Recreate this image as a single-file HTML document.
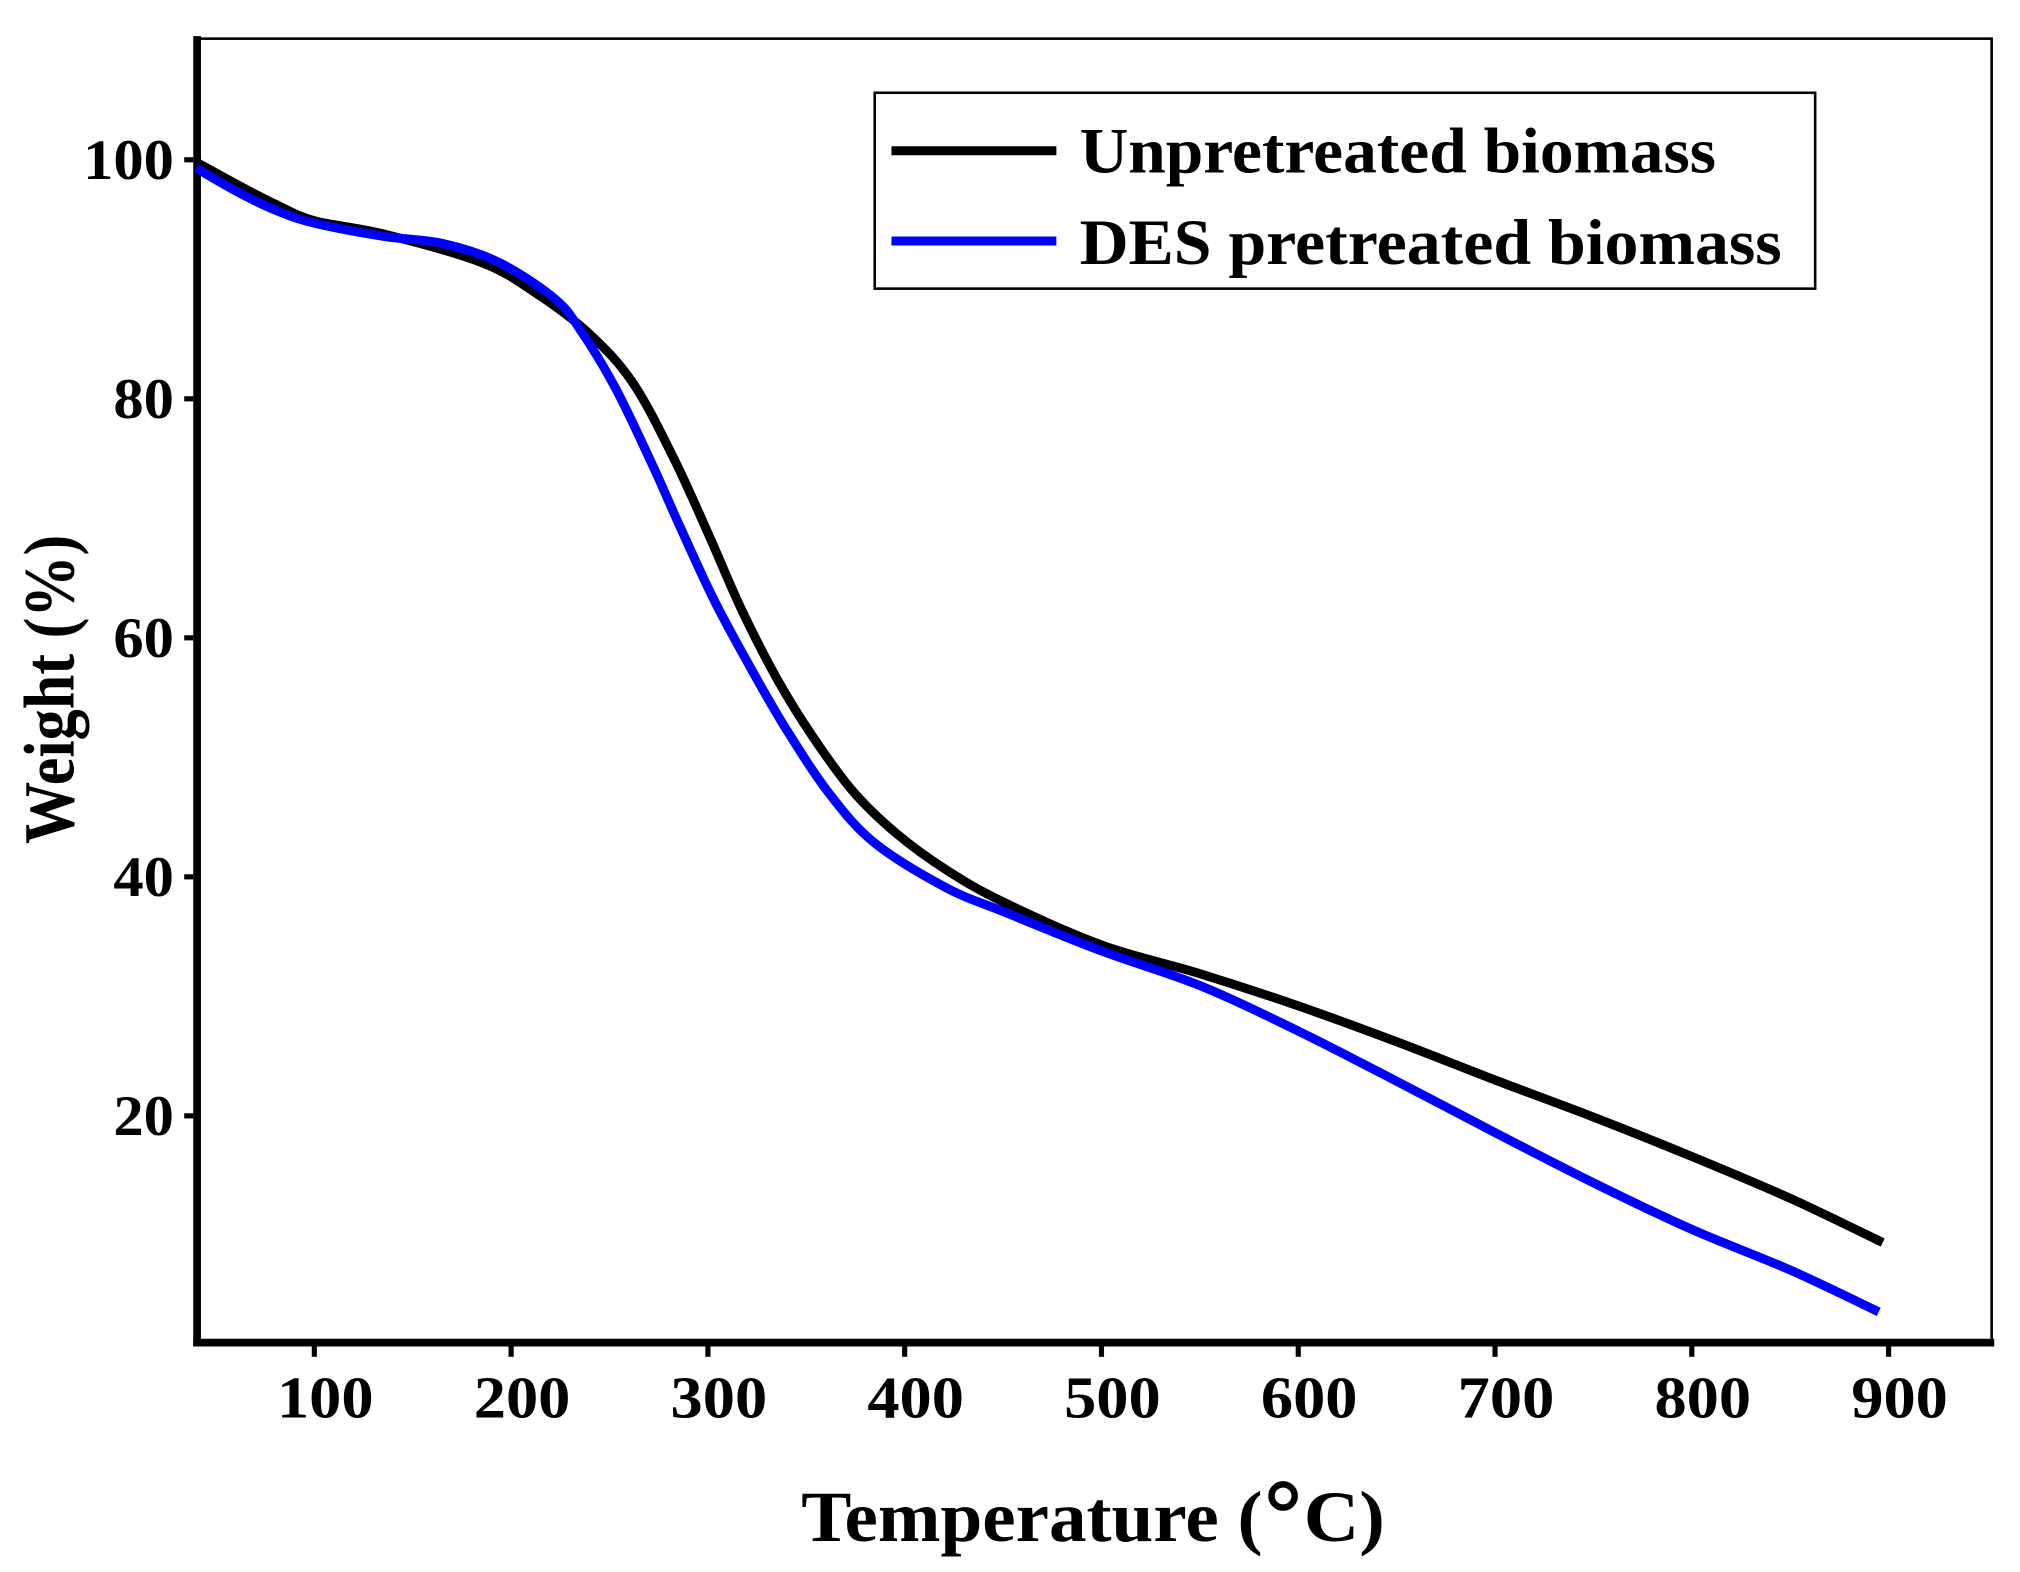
<!DOCTYPE html>
<html><head><meta charset="utf-8"><style>
html,body{margin:0;padding:0;background:#fff;}
svg{display:block;}
text{font-family:"Liberation Serif",serif;font-weight:bold;fill:#000;}
</style></head><body>
<svg id="chart" width="2020" height="1572" viewBox="0 0 1568 1220" preserveAspectRatio="none" xmlns="http://www.w3.org/2000/svg">
<rect x="153" y="30" width="1393" height="1012" fill="none" stroke="#000" stroke-width="2"/>
<line x1="153" y1="28" x2="153" y2="1045" stroke="#000" stroke-width="6"/>
<line x1="150" y1="1042" x2="1548" y2="1042" stroke="#000" stroke-width="6"/>
<g id="xticks"></g>
<g id="yticks"></g>
<g id="series"></g>
<text x="622" y="1196" font-size="56" textLength="358" lengthAdjust="spacingAndGlyphs">Temperature (</text>
<circle cx="996" cy="1161" r="9" fill="none" stroke="#000" stroke-width="5"/>
<text x="1012" y="1196" font-size="56" textLength="63" lengthAdjust="spacingAndGlyphs">C)</text>
<text transform="translate(57,535) rotate(-90)" font-size="56" text-anchor="middle" textLength="240" lengthAdjust="spacingAndGlyphs">Weight (%)</text>
<g>
<rect x="679" y="72" width="730" height="152" fill="#fff" stroke="#000" stroke-width="2"/>
<line x1="692" y1="117" x2="820" y2="117" stroke="#000" stroke-width="7"/>
<text x="838" y="134" font-size="50" textLength="494" lengthAdjust="spacingAndGlyphs">Unpretreated biomass</text>
<line x1="692" y1="187" x2="820" y2="187" stroke="#0000ff" stroke-width="7"/>
<text x="838" y="205" font-size="50" textLength="545" lengthAdjust="spacingAndGlyphs">DES pretreated biomass</text>
</g>
</svg>
<script>
const xTicks=[100,200,300,400,500,600,700,800,900];
const yTicks=[20,40,60,80,100];
const tempUnpre=[40,60,80,100,135,185,213,240,262,283,301,317,335,353,374,396,421,450,500,550,600,650,700,750,800,850,897];
const wUnpre=[99.8,98,96.3,94.9,93.8,91.4,88.8,85.4,81.3,74.9,68.4,62.4,56.6,51.8,47.1,43.6,40.6,37.9,34.3,31.9,29.2,26.2,23,19.9,16.6,13.1,9.4];
const tempDes=[40,60,80,100,135,165,194,222,235,253,272,285,303,322,340,362,385,421,450,500,550,600,650,700,750,800,850,895];
const wDes=[99.3,97.4,95.8,94.7,93.6,93.0,91.4,88.4,85.8,80.9,74.4,69.6,63.2,57.4,52.3,46.9,42.8,39.1,37.1,33.8,30.9,27.1,22.9,18.6,14.4,10.5,7.1,3.6];
const xs=t=>244+(t-100)*1.5275;
const ys=w=>866-(w-20)*9.275;
const NS="http://www.w3.org/2000/svg";
const xg=document.getElementById('xticks'),yg=document.getElementById('yticks'),sg=document.getElementById('series');
xTicks.forEach(t=>{
const l=document.createElementNS(NS,'line');


l.setAttribute('x1',xs(t));l.setAttribute('x2',xs(t));l.setAttribute('y1',1045);l.setAttribute('y2',1053);
l.setAttribute('stroke','#000');l.setAttribute('stroke-width',4);xg.appendChild(l);
const tx=document.createElementNS(NS,'text');


tx.setAttribute('x',xs(t)+8-37);tx.setAttribute('y',1100);tx.setAttribute('font-size',46);
tx.setAttribute('textLength',75);tx.setAttribute('lengthAdjust','spacingAndGlyphs');
tx.textContent=t;xg.appendChild(tx);
});
yTicks.forEach(w=>{
const l=document.createElementNS(NS,'line');


l.setAttribute('x1',143);l.setAttribute('x2',150);l.setAttribute('y1',ys(w));l.setAttribute('y2',ys(w));
l.setAttribute('stroke','#000');l.setAttribute('stroke-width',4);yg.appendChild(l);
const tx=document.createElementNS(NS,'text');


const len=String(w).length*23.5;
tx.setAttribute('x',135-len);tx.setAttribute('y',ys(w)+15);tx.setAttribute('font-size',44);
tx.setAttribute('textLength',len);tx.setAttribute('lengthAdjust','spacingAndGlyphs');
tx.textContent=w;yg.appendChild(tx);
});
function pathFor(T,W){
const p=T.map((t,i)=>[xs(t),ys(W[i])]);
let d='M'+p[0][0]+','+p[0][1];
for(let i=0;i<p.length-1;i++){
const p0=p[Math.max(0,i-1)],p1=p[i],p2=p[i+1],p3=p[Math.min(p.length-1,i+2)];
const c1=[p1[0]+(p2[0]-p0[0])/6,p1[1]+(p2[1]-p0[1])/6];
const c2=[p2[0]-(p3[0]-p1[0])/6,p2[1]-(p3[1]-p1[1])/6];
d+=' C'+c1+' '+c2+' '+p2;
}
return d;
}
const a=document.createElementNS(NS,'path');


a.setAttribute('d',pathFor(tempUnpre,wUnpre));a.setAttribute('fill','none');a.setAttribute('stroke','#000');a.setAttribute('stroke-width',7);
sg.appendChild(a);
const b=document.createElementNS(NS,'path');


b.setAttribute('d',pathFor(tempDes,wDes));b.setAttribute('fill','none');b.setAttribute('stroke','#0000ff');b.setAttribute('stroke-width',7);
sg.appendChild(b);
</script>
</body></html>
